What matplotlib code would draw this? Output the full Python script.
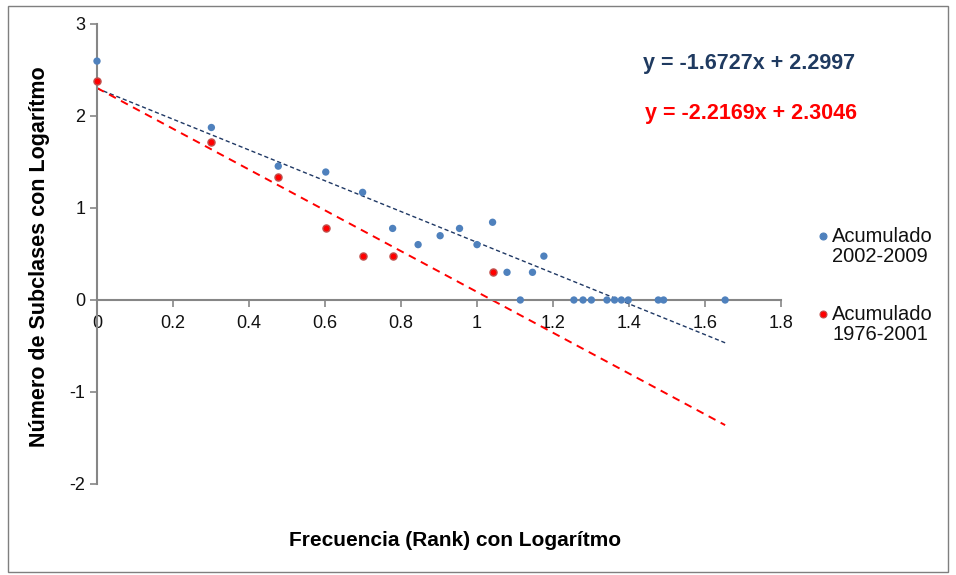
import numpy as np
import matplotlib
matplotlib.use("Agg")
import matplotlib.pyplot as plt
from matplotlib.patches import Rectangle
from matplotlib.lines import Line2D

plt.rcParams['font.family'] = ['Liberation Sans', 'DejaVu Sans']
plt.rcParams['axes.unicode_minus'] = False

# Blue series: Acumulado 2002-2009 (log rank, log count)
x_2002 = [0.000, 0.301, 0.477, 0.602, 0.699, 0.778, 0.845, 0.903, 0.954, 1.000,
          1.041, 1.079, 1.114, 1.146, 1.176, 1.255, 1.279, 1.301, 1.342, 1.362,
          1.380, 1.398, 1.477, 1.491, 1.653]
y_2002 = [2.597, 1.875, 1.455, 1.391, 1.170, 0.778, 0.602, 0.699, 0.778, 0.602,
          0.845, 0.301, 0.000, 0.301, 0.477, 0.000, 0.000, 0.000, 0.000, 0.000,
          0.000, 0.000, 0.000, 0.000, 0.000]

# Red series: Acumulado 1976-2001
x_1976 = [0.000, 0.301, 0.477, 0.602, 0.699, 0.778, 1.041]
y_1976 = [2.380, 1.716, 1.342, 0.778, 0.477, 0.477, 0.301]

# Trend line coefficients (slope, intercept) and their x range
trend_2002 = (-1.6727, 2.2997)
trend_1976 = (-2.2169, 2.3046)
trend_x = [0.0, 1.653]

labels = ["Acumulado\n2002-2009", "Acumulado\n1976-2001"]
xticks = [0, 0.2, 0.4, 0.6, 0.8, 1.0, 1.2, 1.4, 1.6, 1.8]
xticklabels = ["0", "0.2", "0.4", "0.6", "0.8", "1", "1.2", "1.4", "1.6", "1.8"]
yticks = [-2, -1, 0, 1, 2, 3]

W, H = 956, 575
fig = plt.figure(figsize=(W/100, H/100), dpi=100)
ax = fig.add_axes([97/W, (H-484)/H, 684/W, 460/H])
ax.set_xlim(0, 1.8)
ax.set_ylim(-2, 3)

blue = '#4F81BD'
navy = '#1F3864'
red = '#FF0000'
red_edge = '#C0504D'

tx = np.array(trend_x)
ax.plot(tx, trend_2002[0]*tx + trend_2002[1], color=navy, lw=1.0,
        linestyle=(0, (3, 2)), zorder=2)
ax.plot(tx, trend_1976[0]*tx + trend_1976[1], color=red, lw=1.4,
        linestyle=(0, (4, 3)), zorder=2)

ax.scatter(x_2002, y_2002, s=28, color=blue, edgecolors='none', zorder=3,
           clip_on=False)
ax.scatter(x_1976, y_1976, s=26, color=red, edgecolors=red_edge, linewidths=1.0,
           zorder=4, clip_on=False)

gray = '#868686'
for s in ['top', 'right']:
    ax.spines[s].set_visible(False)
ax.spines['left'].set_position(('data', 0))
ax.spines['bottom'].set_position(('data', 0))
for s in ['left', 'bottom']:
    ax.spines[s].set_color(gray)
    ax.spines[s].set_linewidth(1.5)
ax.set_xticks(xticks)
ax.set_xticklabels(xticklabels)
ax.set_yticks(yticks)
ax.tick_params(axis='both', direction='out', length=5, width=1.2, color=gray,
               labelsize=13, labelcolor='#111111')
ax.tick_params(axis='x', pad=6)

fig.text(455/W, 1-540/H, "Frecuencia (Rank) con Logarítmo", ha='center', va='center',
         fontsize=15, fontweight='bold')
fig.text(40/W, 1-257/H, "Número de Subclases con Logarítmo", ha='center', va='center',
         fontsize=15.5, fontweight='bold', rotation=90)

fig.text(749/W, 1-63/H, "y = -1.6727x + 2.2997", ha='center', va='center',
         fontsize=15.5, fontweight='bold', color='#1F3A60')
fig.text(751/W, 1-113/H, "y = -2.2169x + 2.3046", ha='center', va='center',
         fontsize=15.5, fontweight='bold', color=red)

# Legend (Excel style: marker aligned with first text line)
leg_rows = [(labels[0], blue, 'none', 237), (labels[1], red, red_edge, 315)]
for text, fc, ec, ypx in leg_rows:
    fig.add_artist(Line2D([823/W], [1-(ypx-1)/H], marker='o', markersize=5,
                          markerfacecolor=fc, markeredgecolor=ec if ec != 'none' else fc,
                          markeredgewidth=0.8, linestyle='none',
                          transform=fig.transFigure))
    fig.text(832/W, 1-(ypx-10)/H, text, ha='left', va='top', fontsize=14.5,
             linespacing=1.05, color='#111111')

fig.patches.append(Rectangle((8/W, 3/H), 940/W, 566/H, transform=fig.transFigure,
                             fill=False, edgecolor='#7F7F7F', lw=1.0))

fig.savefig("out.png", dpi=100)
